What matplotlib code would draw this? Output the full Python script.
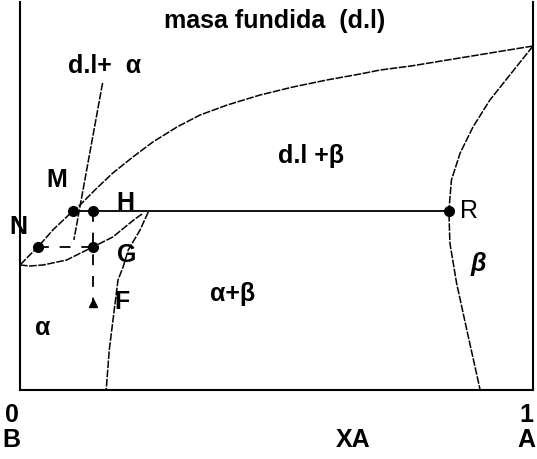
import numpy as np
import matplotlib.pyplot as plt

plt.rcParams['font.family'] = ['Liberation Sans', 'DejaVu Sans']

# composition XA (0 = B, 1 = A) and temperature (arbitrary units)
liq_x = [1.0, 0.762, 0.702, 0.663, 0.598, 0.532, 0.468, 0.404, 0.351, 0.306,
         0.259, 0.220, 0.181, 0.150, 0.117, 0.103, 0.064, 0.035, 0.019, 0.0]
liq_y = [344, 324, 320, 316, 310, 303, 295, 285, 275, 263,
         248, 233, 217, 202, 185, 179, 160, 143, 135, 125]

sol_a_x = [0.0, 0.019, 0.045, 0.091, 0.142, 0.181, 0.224, 0.238]
sol_a_y = [125, 124, 125, 130, 143, 153, 171, 176]

solv_a_x = [0.250, 0.234, 0.211, 0.201, 0.191, 0.182, 0.174, 0.168]
solv_a_y = [178, 160, 140, 123, 110, 73, 40, 0]

beta_x = [1.0, 0.916, 0.883, 0.858, 0.841, 0.836, 0.838, 0.851, 0.871, 0.897]
beta_y = [344, 290, 263, 237, 210, 179, 147, 107, 60, 0]

eut_x = [0.103, 0.836]
eut_y = [179, 179]

lead_x = [0.161, 0.105]
lead_y = [307, 150]

# points M, H, N, G, F, R
pt_x = {'M': 0.103, 'H': 0.143, 'N': 0.035, 'G': 0.143, 'F': 0.143, 'R': 0.836}
pt_y = {'M': 179, 'H': 179, 'N': 143, 'G': 143, 'F': 87, 'R': 179}

fig = plt.figure(figsize=(5.37, 4.59), dpi=100)
ax = fig.add_axes([20/537, 69/459, 513/537, 388/459])
ax.set_xlim(0, 1)
ax.set_ylim(0, 388)
ax.set_xticks([]), ax.set_yticks([])
ax.spines['top'].set_visible(False)
for s in ['left', 'right', 'bottom']:
    ax.spines[s].set_linewidth(1.5)

cs = dict(color='black', lw=1.1, ls=(0, (5, 1)), clip_on=False)
ax.plot(liq_x, liq_y, **cs)
ax.plot(sol_a_x, sol_a_y, **cs)
ax.plot(solv_a_x, solv_a_y, **cs)
ax.plot(beta_x, beta_y, **cs)
ax.plot(lead_x, lead_y, **cs)
ax.plot(eut_x, eut_y, color='black', lw=1.3)

# lineas de construccion (trazos)
ax.plot([pt_x['H'], pt_x['F']], [pt_y['H'], pt_y['F']], color='black', lw=1.3, ls=(0, (6, 6)))
ax.plot([pt_x['N'], pt_x['G']], [pt_y['N'], pt_y['G']], color='black', lw=1.3, ls=(0, (6, 6)))

for k in ['M', 'H', 'N', 'G', 'R']:
    ax.plot(pt_x[k], pt_y[k], 'o', color='black', ms=7)
ax.plot(pt_x['F'], pt_y['F'], '^', color='black', ms=6)

fs = 18
tk = dict(fontsize=fs, fontweight='bold', ha='center', va='center', clip_on=False)
ax.text(0.497, 369, 'masa fundida  (d.l)', **tk)
ax.text(0.094, 324, 'd.l+  α', fontsize=fs, fontweight='bold', ha='left', va='center')
ax.text(0.072, 210, 'M', **tk)
ax.text(-0.004, 163, 'N', **tk)
ax.text(0.205, 187, 'H', **tk)
ax.text(0.207, 135, 'G', **tk)
ax.text(0.199, 88, 'F', **tk)
ax.text(0.045, 62, 'α', **tk)
ax.text(0.415, 96, 'α+β', **tk)
ax.text(0.567, 234, 'd.l +β', **tk)
ax.text(0.875, 179, 'R', fontsize=fs, ha='center', va='center')
ax.text(0.893, 126, 'β', fontsize=fs, fontweight='bold', fontstyle='italic', ha='center', va='center')
ax.text(-0.016, -25, '0', **tk)
ax.text(-0.016, -50, 'B', **tk)
ax.text(0.649, -50, 'XA', **tk)
ax.text(0.988, -25, '1', **tk)
ax.text(0.988, -50, 'A', **tk)

plt.savefig('out.png', dpi=100)
